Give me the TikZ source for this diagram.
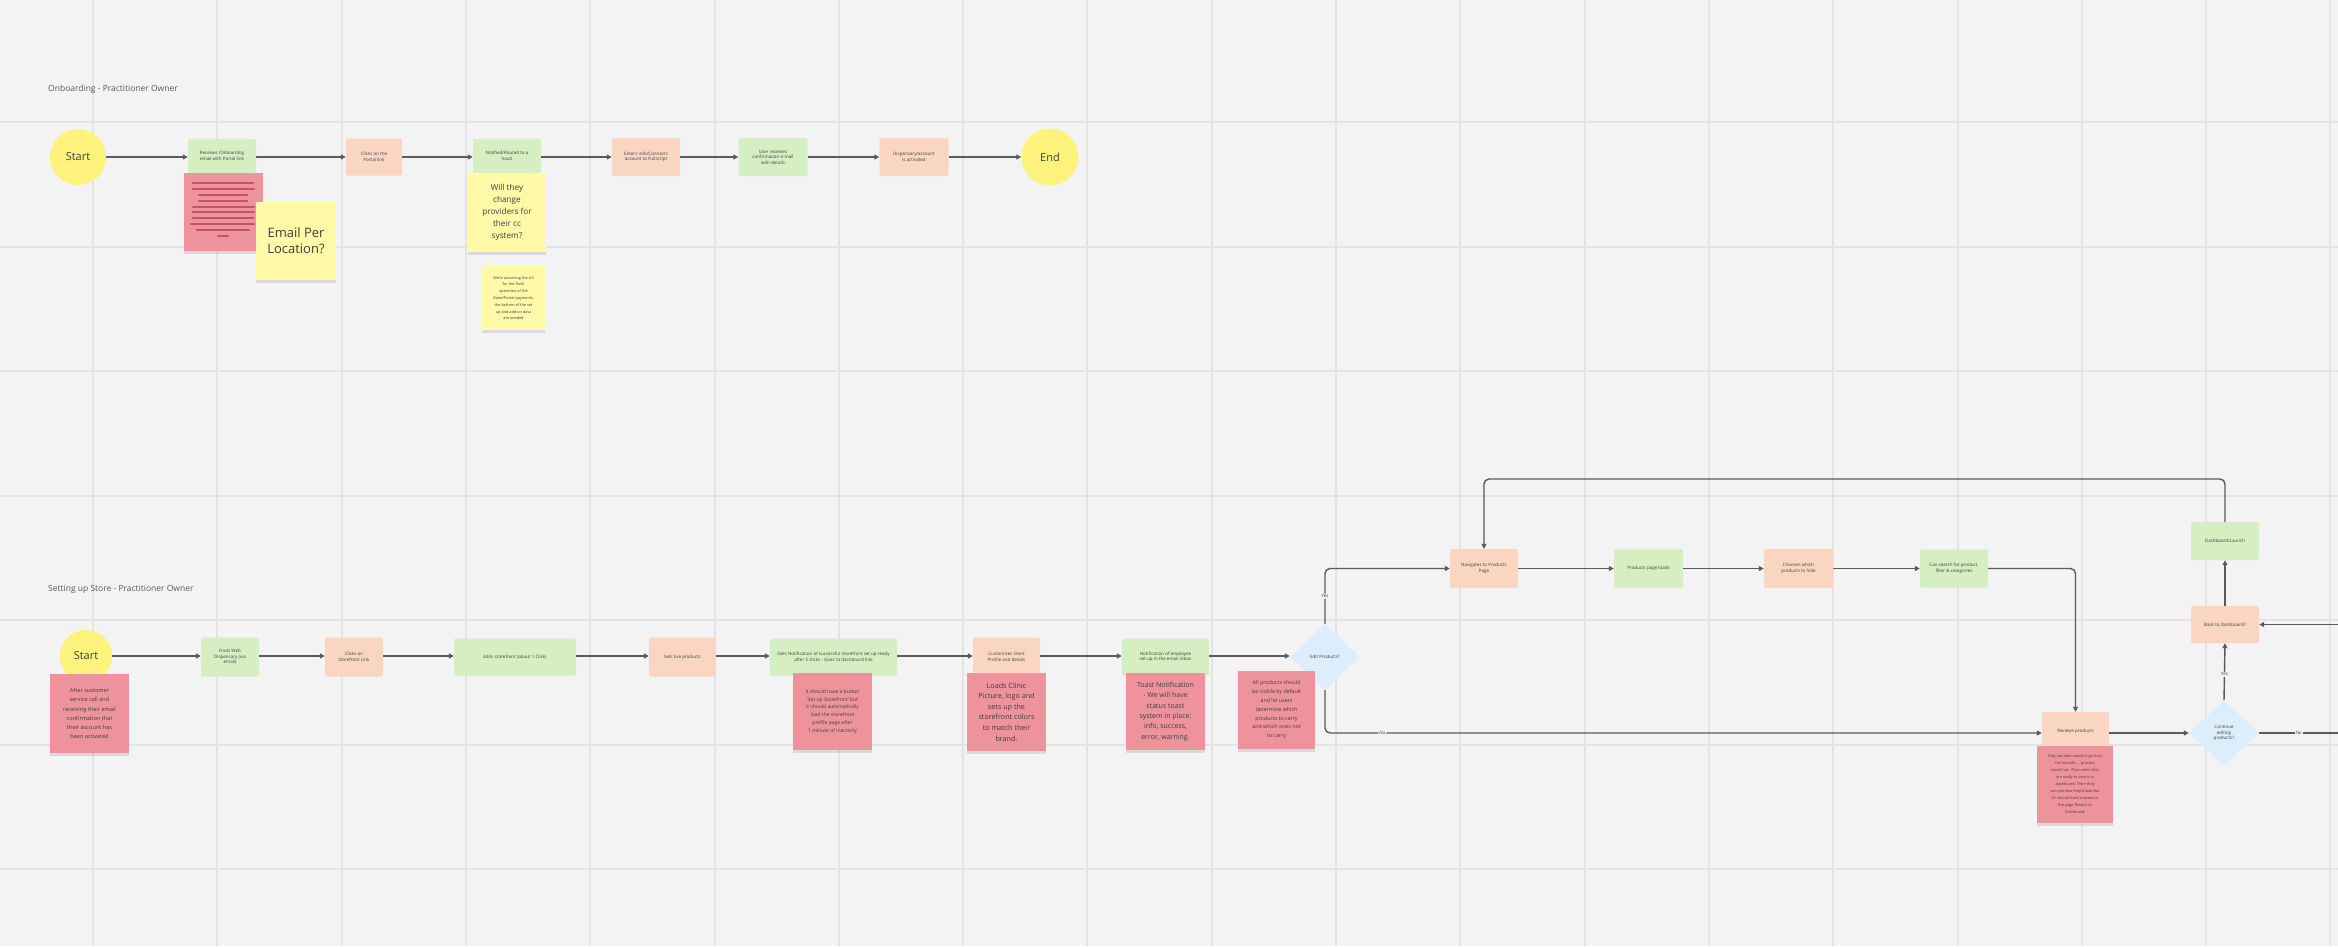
\documentclass[tikz,border=0pt]{standalone}
\usepackage{fontspec}
\setmainfont{Open Sans}
\usetikzlibrary{shapes.geometric,arrows.meta,shadows}
\definecolor{bg}{HTML}{F3F3F3}
\definecolor{gridc}{HTML}{E3E3E3}
\definecolor{ygreen}{HTML}{D6EFC2}
\definecolor{yorange}{HTML}{FAD6C2}
\definecolor{yred}{HTML}{EE939C}
\definecolor{yredln}{HTML}{C25461}
\definecolor{yyellow}{HTML}{FFF9A8}
\definecolor{ystart}{HTML}{FCF27C}
\definecolor{yblue}{HTML}{DCEEFB}
\definecolor{lnc}{HTML}{5A5A5A}
\definecolor{txt}{HTML}{3E3E3E}
\begin{document}
\begin{tikzpicture}[x=1pt,y=-1pt,
  box/.style={rectangle, rounded corners=2pt, inner sep=1pt, align=center, text=txt,
    font=\fontsize{4.5}{5.6}\selectfont},
  gbox/.style={box, fill=ygreen},
  obox/.style={box, fill=yorange},
  note/.style={rectangle, inner sep=2pt, align=center, text=txt,
    drop shadow={shadow xshift=0pt, shadow yshift=-3pt, opacity=0.1, fill=black}},
  rnote/.style={note, fill=yred},
  ynote/.style={note, fill=yyellow},
  term/.style={circle, fill=ystart, inner sep=0pt, text=txt, font=\fontsize{11}{13}\selectfont},
  dec/.style={diamond, fill=yblue, inner sep=0pt, align=center, text=txt,
    font=\fontsize{4.5}{5.6}\selectfont},
  arr/.style={draw=lnc, line width=1.4pt, -{Triangle[length=5pt,width=5pt]}},
  plain/.style={draw=lnc, line width=1.4pt},
  lbl/.style={fill=bg, inner sep=1pt, text=txt, font=\fontsize{4.5}{5}\selectfont},
  ttl/.style={text=black!65, font=\fontsize{8.5}{10}\selectfont, inner sep=0pt}
]
\fill[bg] (0,0) rectangle (2338,946);
\useasboundingbox (0,0) rectangle (2338,946);
\foreach \i in {0,...,18} \draw[gridc, line width=2pt] ({93+124.3*\i},0) -- ({93+124.3*\i},946);
\foreach \j in {0,...,6} \draw[gridc, line width=2pt] (0,{122+124.5*\j}) -- (2338,{122+124.5*\j});

% ---------------- Onboarding row ----------------
\node[ttl, anchor=west] (ttlA) at (48,89) {Onboarding - Practitioner Owner};

\node[term, minimum size=56pt] (startA) at (78,157) {Start};
\node[gbox, minimum width=68pt, minimum height=34pt] (t1) at (222,156) {Receives Onboarding\\email with Portal link};
\node[rnote, minimum width=79pt, minimum height=78pt] (doc) at (223.5,212) {};
\foreach \y/\a/\b in {183/193/253,189/193/254,195/199/247,201/199/247,207/193/254,212/193/254,218/193/253,224/191/254,230/197/249}
  \draw[yredln, line width=2.4pt, line cap=round] (\a,\y) -- (\b,\y);
\draw[yredln, line width=2.4pt, line cap=round] (218,236) -- (228,236);
\node[ynote, minimum width=80pt, minimum height=78pt, font=\fontsize{13}{16}\selectfont] (email) at (296,241) {Email Per\\Location?};

\node[obox, minimum width=56pt, minimum height=37pt] (t2) at (374,157) {Clicks on the\\Portal link};
\node[gbox, minimum width=68pt, minimum height=34pt] (t3) at (507,156) {Notified/Routed to a\\Vault};
\node[ynote, minimum width=78pt, minimum height=79pt, font=\fontsize{8.2}{12}\selectfont] (will) at (507,212) {Will they\\change\\providers for\\their cc\\system?};
\node[ynote, minimum width=63pt, minimum height=64pt, font=\fontsize{3.8}{6.8}\selectfont] (assume) at (513.5,298) {We're assuming the UX\\for the flush\\operation of the\\Done/Portal payments,\\the bottom of the set\\up and add-on data\\are needed};
\node[obox, minimum width=68pt, minimum height=38pt] (t4) at (646,157) {Enters info/Connects\\account to Fullscript};
\node[gbox, minimum width=69pt, minimum height=38pt] (t5) at (773,157) {User receives\\confirmation e-mail\\with details};
\node[obox, minimum width=69pt, minimum height=38pt] (t6) at (914,157) {Dispensary/account\\is activated};
\node[term, minimum size=57pt] (endA) at (1050,157) {End};

\draw[arr] (startA) -- (t1.west |- startA);
\draw[arr] (t1.east |- startA) -- (t2.west |- startA);
\draw[arr] (t2) -- (t3.west |- t2);
\draw[arr] (t3.east |- t2) -- (t4);
\draw[arr] (t4) -- (t5);
\draw[arr] (t5) -- (t6);
\draw[arr] (t6) -- (endA);

% ---------------- Setting up Store row ----------------
\node[ttl, anchor=west] (ttlB) at (48,589) {Setting up Store - Practitioner Owner};

\node[term, minimum size=52pt] (startB) at (86,656) {Start};
\node[rnote, minimum width=79pt, minimum height=79pt, font=\fontsize{5.6}{9.2}\selectfont] (sn) at (89.5,713.5) {After customer\\service call and\\receiving their email\\confirmation that\\their account has\\been activated};
\node[gbox, minimum width=58pt, minimum height=39pt] (b1) at (230,657) {Finds Web\\Dispensary (via\\email)};
\node[obox, minimum width=58pt, minimum height=39pt] (b2) at (354,657) {Clicks on\\Storefront Link};
\node[gbox, minimum width=122pt, minimum height=37pt] (b3) at (515,657) {Edits storefront (about 1 Click)};
\node[obox, minimum width=67pt, minimum height=39pt] (b4) at (682.5,657) {Sets live products};
\node[gbox, minimum width=127pt, minimum height=37pt] (b5) at (833.5,657) {Gets Notification of successful storefront set up ready\\after 5 clicks - Goes to dashboard link};
\node[rnote, minimum width=79pt, minimum height=77pt, font=\fontsize{5}{7.7}\selectfont] (b5n) at (832.5,711.5) {It should have a button\\`Set up Storefront' but\\it should automatically\\load the storefront\\profile page after\\1 minute of inactivity};
\node[obox, minimum width=67pt, minimum height=39pt] (b6) at (1006.5,657) {Customizes Store\\Profile and details};
\node[rnote, minimum width=79pt, minimum height=78pt, font=\fontsize{7.2}{10.6}\selectfont] (b6n) at (1006.5,712) {Loads Clinic\\Picture, logo and\\sets up the\\storefront colors\\to match their\\brand.};
\node[gbox, minimum width=87pt, minimum height=37pt] (b7) at (1165.5,657) {Notification of employee\\set up in the email inbox};
\node[rnote, minimum width=79pt, minimum height=77pt, font=\fontsize{7}{10.4}\selectfont] (b7n) at (1165.5,711.5) {Toast Notification\\- We will have\\status toast\\system in place:\\info, success,\\error, warning.};
\node[dec, minimum width=70pt, minimum height=66pt] (d1) at (1325,657) {Edit Products?};
\node[rnote, minimum width=77pt, minimum height=78pt, font=\fontsize{5.3}{8.8}\selectfont] (d1n) at (1276.5,710) {All products should\\be visible by default\\and let users\\determine which\\products to carry\\and which ones not\\to carry};

\node[obox, minimum width=68pt, minimum height=39pt] (n1) at (1484,568.5) {Navigates to Products\\Page};
\node[gbox, minimum width=69pt, minimum height=39pt] (n2) at (1648.5,568.5) {Products page loads};
\node[obox, minimum width=69pt, minimum height=39pt] (n3) at (1798.5,568.5) {Chooses which\\products to hide};
\node[gbox, minimum width=68pt, minimum height=38pt] (n4) at (1954,568.5) {Can search for product,\\filter \& categories};

\node[obox, minimum width=67pt, minimum height=38pt] (rev) at (2075.5,731) {Reviews products};
\node[rnote, minimum width=76pt, minimum height=77pt, font=\fontsize{3.8}{7}\selectfont] (revn) at (2075,784) {They are then asked to go from\\the list with ... process\\overall set. Then when they\\are ready to save in a\\dashboard. Then they\\can see how they'd look like\\Or should have a review in\\the page `Return to\\Dashboard'};
\node[dec, minimum width=70pt, minimum height=66pt] (d2) at (2224,733) {Continue\\editing\\products?};
\node[obox, minimum width=68pt, minimum height=37pt] (back) at (2225,624.5) {Back to Dashboard?};
\node[gbox, minimum width=68pt, minimum height=38pt] (dash) at (2225,541) {Dashboard/Launch};

\coordinate (loopc) at (2225,479);
\coordinate (rin) at (2338,624.5);
\coordinate (rout) at (2338,733);

\draw[arr] (startB) -- (b1.west |- startB);
\draw[arr] (b1.east |- startB) -- (b2.west |- startB);
\draw[arr] (b2.east |- startB) -- (b3.west |- startB);
\draw[arr] (b3.east |- startB) -- (b4.west |- startB);
\draw[arr] (b4.east |- startB) -- (b5.west |- startB);
\draw[arr] (b5.east |- startB) -- (b6.west |- startB);
\draw[arr] (b6.east |- startB) -- (b7.west |- startB);
\draw[arr] (b7.east |- startB) -- (d1.west |- startB);

\draw[arr, rounded corners=5pt] (d1.north) |- node[pos=0.25, lbl] {Yes} (n1.west);
\draw[arr, rounded corners=5pt] (d1.south) |- node[pos=0.54, lbl] {No} (rev.west |- d2);
\draw[arr] (n1) -- (n2);
\draw[arr] (n2) -- (n3);
\draw[arr] (n3) -- (n4);
\draw[arr, rounded corners=5pt] (n4.east) -| (rev.north);
\draw[arr] (rev.east |- d2) -- (d2.west);
\draw[arr] (d2.north) -- node[pos=0.45, lbl] {Yes} (back.south);
\draw[arr] (back.north) -- (dash.south);
\draw[arr, rounded corners=5pt] (dash.north) -- (loopc) -| (n1.north);
\draw[plain] (d2.east) -- node[pos=0.5, lbl] {No} (rout);
\draw[arr] (rin) -- (back.east);
\end{tikzpicture}
\end{document}
